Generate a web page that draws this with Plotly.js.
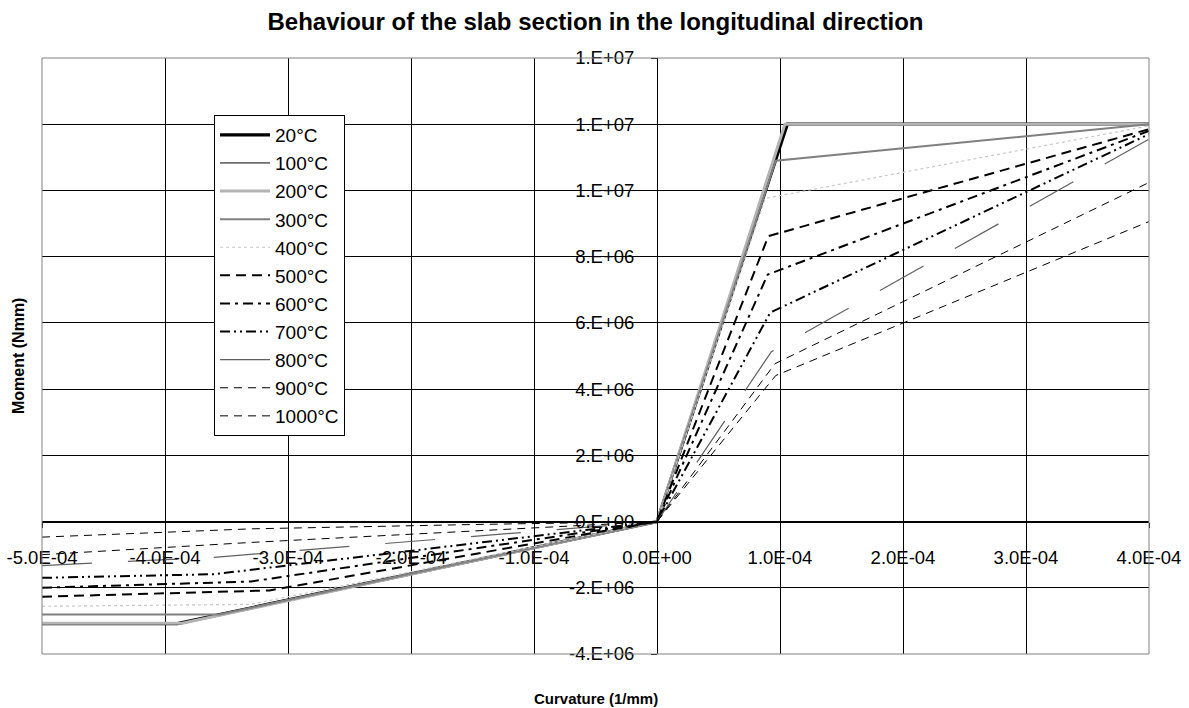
<!DOCTYPE html>
<html><head><meta charset="utf-8">
<script src="https://cdn.plot.ly/plotly-3.0.1.min.js"></script>
<style>html,body{margin:0;padding:0;background:#fff}</style>
</head><body><div id="chart" style="width:1189px;height:708px"></div>
<script>
// ---- data (curvature in 1/mm, moment in Nmm) ----
const seriesNames = ['20°C','100°C','200°C','300°C','400°C','500°C','600°C','700°C','800°C','900°C','1000°C'];
const curv20   = [-5e-4, -3.9e-4, 0, 1.06e-4, 4e-4];
const mom20    = [-3.08e6, -3.08e6, 0, 12.0e6, 12.0e6];
const curv100  = [-5e-4, -3.88e-4, 0, 1.05e-4, 4e-4];
const mom100   = [-3.08e6, -3.08e6, 0, 12.0e6, 12.0e6];
const curv200  = [-5e-4, -3.86e-4, 0, 1.04e-4, 4e-4];
const mom200   = [-3.07e6, -3.07e6, 0, 12.0e6, 12.0e6];
const curv300  = [-5e-4, -3.56e-4, 0, 0.965e-4, 4e-4];
const mom300   = [-2.81e6, -2.81e6, 0, 10.9e6, 12.0e6];
const curv400  = [-5e-4, -3.3e-4, 0, 0.88e-4, 4e-4];
const mom400   = [-2.56e6, -2.5e6, 0, 9.76e6, 11.95e6];
const curv500  = [-5e-4, -3.15e-4, 0, 0.905e-4, 4e-4];
const mom500   = [-2.27e6, -2.08e6, 0, 8.62e6, 11.85e6];
const curv600  = [-5e-4, -3.3e-4, 0, 0.9e-4, 4e-4];
const mom600   = [-2.0e6, -1.81e6, 0, 7.46e6, 11.8e6];
const curv700  = [-5e-4, -3.6e-4, 0, 0.92e-4, 4e-4];
const mom700   = [-1.7e6, -1.59e6, 0, 6.31e6, 11.7e6];
const curv800  = [-5e-4, -3.6e-4, 0, 0.93e-4, 4e-4];
const mom800   = [-1.33e6, -1.08e6, 0, 5.13e6, 11.55e6];
const curv900  = [-5e-4, -3.3e-4, 0, 0.96e-4, 4e-4];
const mom900   = [-1.0e6, -0.63e6, 0, 4.77e6, 10.24e6];
const curv1000 = [-5e-4, -3.3e-4, -1.5e-4, 0, 0.965e-4, 4e-4];
const mom1000  = [-0.47e6, -0.22e6, -0.09e6, 0, 4.41e6, 9.06e6];

const xTickVals = [-5e-4,-4e-4,-3e-4,-2e-4,-1e-4,0,1e-4,2e-4,3e-4,4e-4];
const xTickText = ['-5.0E-04','-4.0E-04','-3.0E-04','-2.0E-04','-1.0E-04','0.0E+00','1.0E-04','2.0E-04','3.0E-04','4.0E-04'];
const yTickVals = [-4e6,-2e6,0,2e6,4e6,6e6,8e6,10e6,12e6,14e6];
const yTickText = ['-4.E+06','-2.E+06','0.E+00','2.E+06','4.E+06','6.E+06','8.E+06','1.E+07','1.E+07','1.E+07'];

const curvs = [curv20,curv100,curv200,curv300,curv400,curv500,curv600,curv700,curv800,curv900,curv1000];
const moms  = [mom20,mom100,mom200,mom300,mom400,mom500,mom600,mom700,mom800,mom900,mom1000];
const styles = [
  {color:'#000000', width:3.2, dash:'solid'},
  {color:'#000000', width:1, dash:'solid'},
  {color:'#b4b4b4', width:3, dash:'solid'},
  {color:'#808080', width:2, dash:'solid'},
  {color:'#c8c8c8', width:1.2, dash:'dot'},
  {color:'#000000', width:2, dash:'10px,6px'},
  {color:'#000000', width:2, dash:'10px,5px,3px,5px'},
  {color:'#000000', width:2, dash:'10px,4px,2px,4px,2px,4px'},
  {color:'#606060', width:1.2, dash:'50px,36px'},
  {color:'#000000', width:1, dash:'8px,6px'},
  {color:'#000000', width:1, dash:'8px,6px'}
];

const FONT = 'Liberation Sans, Arial, sans-serif';
const traces = seriesNames.map((n,i)=>({
  type:'scatter', mode:'lines', name:n, x:curvs[i], y:moms[i],
  line:Object.assign({shape:'linear'}, styles[i]),
  legendgroup:'g'+i, hoverinfo:'skip'
}));

const layout = {
  width:1189, height:708,
  margin:{l:42, r:40, t:58, b:54},
  paper_bgcolor:'#fff', plot_bgcolor:'#fff',
  font:{family:FONT, color:'#000', size:18},
  title:{text:'Behaviour of the slab section in the longitudinal direction',
    font:{family:FONT, size:24, weight:'bold', color:'#000'},
    x:0.5, xref:'paper', y:1-22/708, yref:'container', yanchor:'middle'},
  showlegend:true,
  legend:{x:(214-42)/1107, y:(654-115)/596, xanchor:'left', yanchor:'top',
    bgcolor:'#fff', bordercolor:'#000', borderwidth:1, itemwidth:50,
    font:{family:FONT, size:19, color:'#000'}, tracegroupgap:0.4, traceorder:'grouped'},
  xaxis:{range:[-5e-4,4e-4], tickmode:'array', tickvals:xTickVals, ticktext:xTickText,
    anchor:'free', position:4/18, showgrid:true, gridcolor:'#000', gridwidth:1,
    zeroline:false, showline:true, linecolor:'#000', linewidth:1,
    ticks:'outside', ticklen:5, tickcolor:'#000', ticklabelstandoff:14,
    tickfont:{family:FONT, size:18.5, color:'#000'}, fixedrange:true},
  yaxis:{range:[-4e6,14e6], tickmode:'array', tickvals:yTickVals, ticktext:yTickText,
    anchor:'free', position:5/9, showgrid:true, gridcolor:'#000', gridwidth:1,
    zeroline:false, showline:true, linecolor:'#000', linewidth:1,
    ticks:'outside', ticklen:6, tickcolor:'#000', ticklabelstandoff:13,
    tickfont:{family:FONT, size:18.5, color:'#000'}, fixedrange:true},
  shapes:[{type:'rect', xref:'paper', yref:'paper', x0:0, x1:1, y0:0, y1:1,
    line:{color:'#808080', width:1}, fillcolor:'rgba(0,0,0,0)', layer:'above'}],
  annotations:[
    {text:'Curvature (1/mm)', xref:'paper', yref:'paper', x:0.5, y:-44/596, yanchor:'middle',
     showarrow:false, font:{family:FONT, size:15, weight:'bold', color:'#000'}},
    {text:'Moment (Nmm)', xref:'paper', yref:'paper', x:-24/1107, y:0.5, xanchor:'center', textangle:-90,
     showarrow:false, font:{family:FONT, size:16, weight:'bold', color:'#000'}}
  ]
};
Plotly.newPlot('chart', traces, layout, {staticPlot:true, displayModeBar:false});
</script></body></html>
